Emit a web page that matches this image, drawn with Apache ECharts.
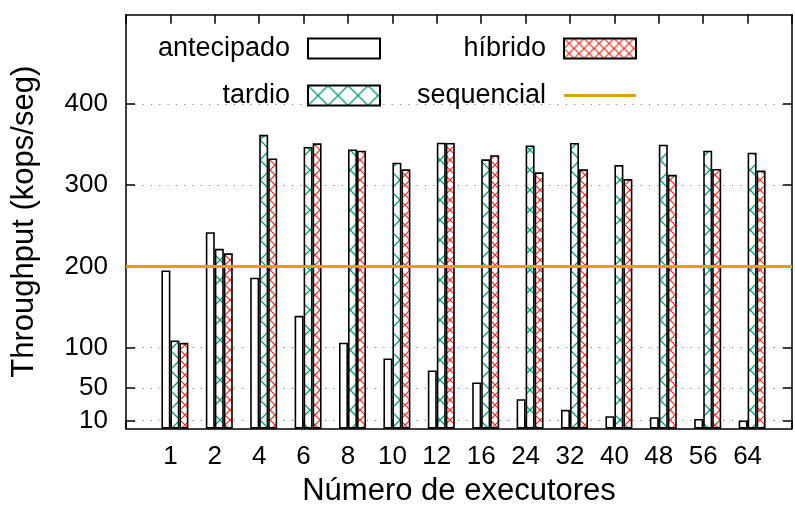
<!DOCTYPE html>
<html>
<head>
<meta charset="utf-8">
<script src="https://cdn.jsdelivr.net/npm/echarts@6/dist/echarts.min.js"></script>
<style>
html,body{margin:0;padding:0;background:#fff;}
#chart{width:795px;height:512px;}
</style>
</head>
<body>
<div id="chart"></div>
<script>
// ---- data ----
const xLabels = ['1','2','4','6','8','10','12','16','24','32','40','48','56','64'];
const antecipado = [195, 242, 186, 139, 106, 86.5, 71.7, 57, 36.4, 23.2, 15.4, 14.2, 12.1, 10.1];
const tardio = [108.7, 221.6, 362, 347, 344, 327.6, 352.3, 331.8, 349, 352, 324.8, 349.8, 342.5, 340];
const hibrido = [105.8, 216, 333, 351.5, 342.5, 319.5, 352, 337, 315.8, 319.5, 307.5, 312.8, 320, 318];
const sequencial = 200;
const yTicks = [10, 50, 100, 200, 300, 400];
const seriesNames = ['antecipado', 'tardio', 'híbrido', 'sequencial'];
const xTitle = 'Número de executores';
const yTitle = 'Throughput (kops/seg)';

// ---- styles ----
const FONT = 'Liberation Sans, Arial, Helvetica, sans-serif';
function hatch(w, h, color, lw) {
  const c = document.createElement('canvas');
  c.width = w; c.height = h;
  const g = c.getContext('2d');
  g.fillStyle = '#fff';
  g.fillRect(0, 0, w, h);
  g.strokeStyle = color;
  g.lineWidth = lw;
  g.beginPath();
  g.moveTo(0, 0); g.lineTo(w, h);
  g.moveTo(w, 0); g.lineTo(0, h);
  g.stroke();
  return c;
}
const greenPat = { image: hatch(20, 20, '#009e73', 1.3), repeat: 'repeat' };
const redPat = { image: hatch(10, 10, '#f8281a', 1.2), repeat: 'repeat' };
const ORANGE = '#e69f00';

// category axis with empty slots at both ends (x range 0..15)
const cats = [''].concat(xLabels, ['']);
const pad = arr => ['-'].concat(arr, ['-']);

const chart = echarts.init(document.getElementById('chart'), null, { renderer: 'canvas' });
const barBase = { type: 'bar', barWidth: 9, barGap: '0%', xAxisIndex: 0, yAxisIndex: 0 };
const legendText = { fontFamily: FONT, fontSize: 27, color: '#000', lineHeight: 20, padding: [0, 13, 0, 0] };
const option = {
  animation: false,
  backgroundColor: '#fff',
  textStyle: { fontFamily: FONT },
  grid: { left: 126, top: 14.7, width: 675, height: 414, containLabel: false },
  legend: [
    {
      data: [{ name: seriesNames[0], icon: 'rect' }, { name: seriesNames[1], icon: 'rect' }],
      orient: 'vertical', align: 'right', right: 414, top: 35, padding: 0,
      itemWidth: 72, itemHeight: 20, itemGap: 20, selectedMode: false,
      textStyle: legendText
    },
    {
      data: [{ name: seriesNames[2], icon: 'rect' },
             { name: seriesNames[3], icon: 'path://M0,0H72V3H0Z', itemStyle: { color: ORANGE, borderWidth: 0 } }],
      orient: 'vertical', align: 'right', right: 158, top: 35, padding: 0,
      itemWidth: 72, itemHeight: 20, itemGap: 20, selectedMode: false,
      textStyle: legendText
    }
  ],
  xAxis: [
    {
      type: 'category', data: cats, boundaryGap: false, position: 'bottom',
      axisLine: { show: true, onZero: false, lineStyle: { color: '#000', width: 1.5 } },
      axisTick: { show: true, inside: true, length: 9, interval: 0, lineStyle: { color: '#000', width: 1.5 } },
      axisLabel: { interval: 0, fontSize: 26, color: '#000', fontFamily: FONT, margin: 15 },
      splitLine: { show: false },
      name: xTitle, nameLocation: 'middle', nameGap: 47,
      nameTextStyle: { fontSize: 31, color: '#000', fontFamily: FONT }
    },
    {
      type: 'category', data: cats, boundaryGap: false, position: 'top',
      axisLine: { show: true, onZero: false, lineStyle: { color: '#000', width: 1.5 } },
      axisTick: { show: true, inside: true, length: 9, interval: 0, lineStyle: { color: '#000', width: 1.5 } },
      axisLabel: { show: false },
      splitLine: { show: false }
    }
  ],
  yAxis: [
    {
      type: 'value', min: 0, max: 510, position: 'left',
      axisLine: { show: true, lineStyle: { color: '#000', width: 1.5 } },
      axisTick: { show: true, inside: true, length: 9, customValues: yTicks, lineStyle: { color: '#000', width: 1.5 } },
      axisLabel: { customValues: yTicks, fontSize: 26, color: '#000', fontFamily: FONT, margin: 18 },
      splitLine: { show: true, lineStyle: { color: '#8a8a8a', width: 1, type: [1.2, 7.1] } },
      name: yTitle, nameLocation: 'middle', nameGap: 86, nameRotate: 90,
      nameTextStyle: { fontSize: 31, color: '#000', fontFamily: FONT }
    },
    {
      type: 'value', min: 0, max: 510, position: 'right',
      axisLine: { show: true, lineStyle: { color: '#000', width: 1.5 } },
      axisTick: { show: true, inside: true, length: 9, customValues: yTicks, lineStyle: { color: '#000', width: 1.5 } },
      axisLabel: { show: false },
      splitLine: { show: false }
    }
  ],
  series: [
    Object.assign({}, barBase, { name: '_pad', data: pad(xLabels.map(() => '-')), silent: true,
      itemStyle: { color: 'rgba(0,0,0,0)' } }),
    Object.assign({}, barBase, { name: seriesNames[0], data: pad(antecipado),
      itemStyle: { color: '#ffffff', borderColor: '#000', borderWidth: 1.6 } }),
    Object.assign({}, barBase, { name: seriesNames[1], data: pad(tardio),
      itemStyle: { color: greenPat, borderColor: '#000', borderWidth: 1.6 } }),
    Object.assign({}, barBase, { name: seriesNames[2], data: pad(hibrido),
      itemStyle: { color: redPat, borderColor: '#000', borderWidth: 1.6 } }),
    {
      type: 'line', name: seriesNames[3], data: [], symbol: 'none',
      xAxisIndex: 0, yAxisIndex: 0, z: 4,
      itemStyle: { color: ORANGE },
      lineStyle: { color: ORANGE, width: 3 },
      markLine: {
        silent: true, symbol: 'none', label: { show: false },
        lineStyle: { color: ORANGE, width: 3, type: 'solid' },
        data: [{ yAxis: sequencial }]
      }
    }
  ]
};
chart.setOption(option);
</script>
</body>
</html>
